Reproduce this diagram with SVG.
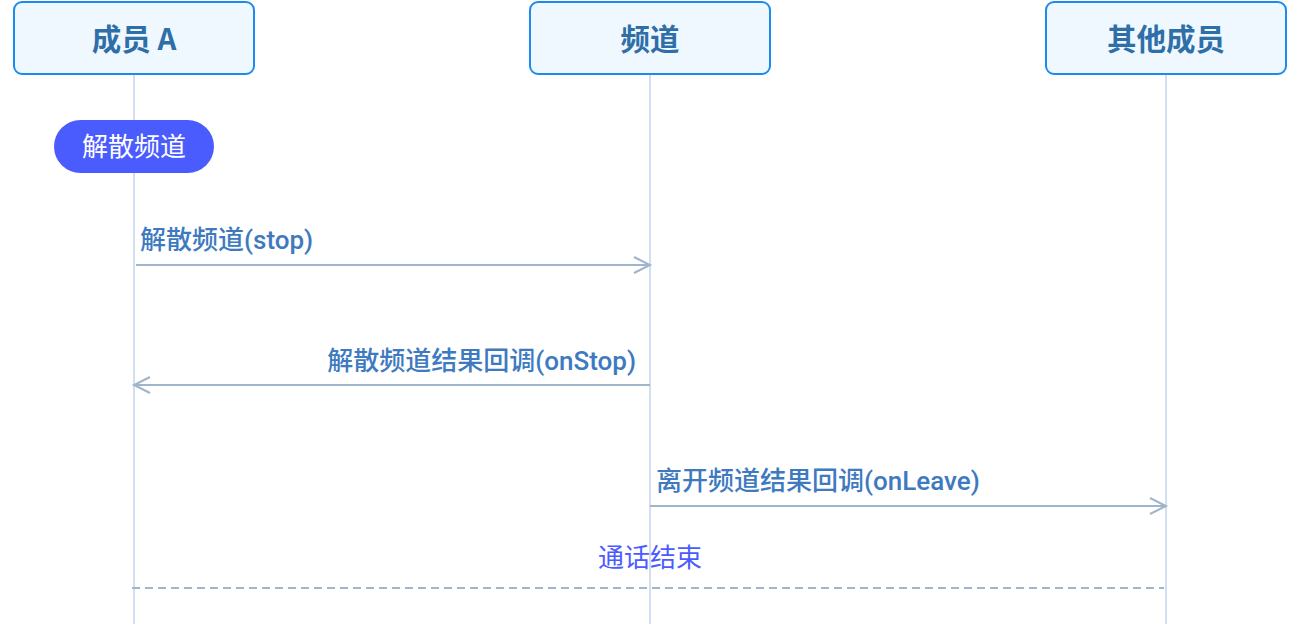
<svg xmlns="http://www.w3.org/2000/svg" width="1300" height="624" viewBox="0 0 1300 624">
<style>
.hdr{fill:#f0f8ff;stroke:#1a8cf0;stroke-width:2}
.hdrt{font-family:"Noto Sans CJK SC","Liberation Sans",sans-serif;font-weight:bold;font-size:29.5px;fill:#2f6fa8;text-anchor:middle}
.life{stroke:#d3dff0;stroke-width:2}
.msg{stroke:#a0b4cc;stroke-width:2;fill:none}
.lbl{font-family:Roboto,"Noto Sans CJK SC",sans-serif;font-weight:500;font-size:26px;fill:#3d7abf}
</style>
<defs>
<marker id="arr" markerWidth="20" markerHeight="20" refX="17" refY="9" orient="auto" markerUnits="userSpaceOnUse">
<path d="M1,1 L17,9 L1,17" fill="none" stroke="#a0b4cc" stroke-width="2"/>
</marker>
</defs>
<rect width="1300" height="624" fill="#ffffff"/>
<g id="lifelines">
<line class="life" x1="134" y1="74" x2="134" y2="624"/>
<line class="life" x1="650" y1="74" x2="650" y2="624"/>
<line class="life" x1="1166" y1="74" x2="1166" y2="624"/>
</g>
<g id="memberA">
<rect class="hdr" x="14" y="2" width="240" height="72" rx="8"/>
<text class="hdrt" x="134" y="50">成员 A</text>
</g>
<g id="channel">
<rect class="hdr" x="530" y="2" width="240" height="72" rx="8"/>
<text class="hdrt" x="650" y="50">频道</text>
</g>
<g id="others">
<rect class="hdr" x="1046" y="2" width="240" height="72" rx="8"/>
<text class="hdrt" x="1166" y="50">其他成员</text>
</g>
<g id="dissolve">
<rect x="54" y="120" width="160" height="53" rx="26.5" fill="#4b5cff"/>
<text x="134" y="156" font-family="'Noto Sans CJK SC',sans-serif" font-size="26" fill="#ffffff" text-anchor="middle">解散频道</text>
</g>
<g id="connectors">
<line class="msg" x1="136" y1="265" x2="650" y2="265" marker-end="url(#arr)"/>
<text class="lbl" x="140" y="249">解散频道(stop)</text>
<line class="msg" x1="650" y1="385" x2="134" y2="385" marker-end="url(#arr)"/>
<text class="lbl" x="636" y="370" text-anchor="end">解散频道结果回调(onStop)</text>
<line class="msg" x1="650" y1="506" x2="1166" y2="506" marker-end="url(#arr)"/>
<text class="lbl" x="656" y="490">离开频道结果回调(onLeave)</text>
<line x1="132" y1="588" x2="1164" y2="588" stroke="#a0b4cc" stroke-width="2" stroke-dasharray="8,5"/>
<text x="650" y="567" font-family="'Noto Sans CJK SC',sans-serif" font-size="26" fill="#4b5cff" text-anchor="middle">通话结束</text>
</g>
</svg>
